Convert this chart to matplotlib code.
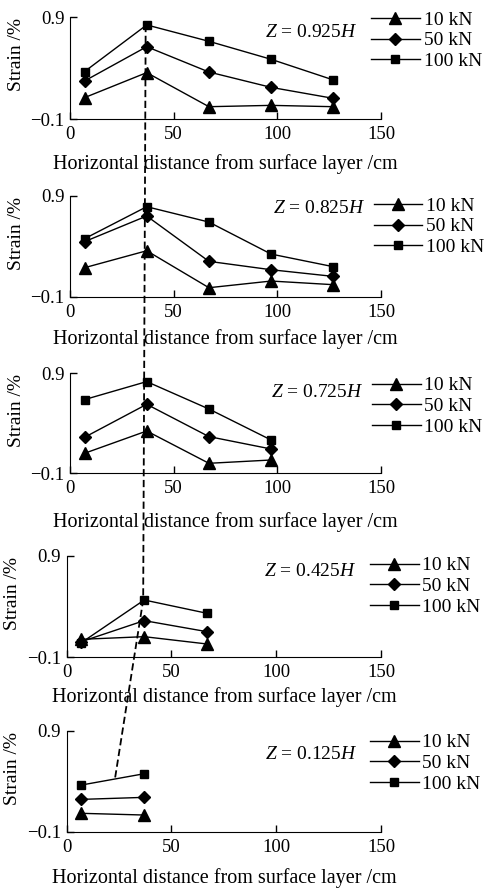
import numpy as np
import matplotlib as mpl
mpl.use("Agg")
mpl.rcParams['font.family'] = 'Liberation Serif'
mpl.rcParams['mathtext.fontset'] = 'custom'
mpl.rcParams['mathtext.rm'] = 'Liberation Serif'
mpl.rcParams['mathtext.it'] = 'Liberation Serif:italic'
mpl.rcParams['font.size'] = 13
import matplotlib.pyplot as plt
from matplotlib.lines import Line2D

# data
depths = ["0.925", "0.825", "0.725", "0.425", "0.125"]
x_pos = [7, 37, 67, 97, 127]
loads = ["10 kN", "50 kN", "100 kN"]
strain_10 = [
    [0.11, 0.356, 0.021, 0.034, 0.021],
    [0.187, 0.355, -0.011, 0.055, 0.019],
    [0.10, 0.323, 0.0, 0.033],
    [0.077, 0.103, 0.031],
    [0.082, 0.065],
]
strain_50 = [
    [0.274, 0.611, 0.362, 0.211, 0.103],
    [0.445, 0.699, 0.25, 0.167, 0.101],
    [0.26, 0.59, 0.267, 0.143],
    [0.054, 0.261, 0.152],
    [0.22, 0.24],
]
strain_100 = [
    [0.366, 0.825, 0.664, 0.487, 0.284],
    [0.474, 0.791, 0.639, 0.322, 0.197],
    [0.637, 0.817, 0.543, 0.233],
    [0.044, 0.464, 0.333],
    [0.362, 0.474],
]
# dashed trend line: (panel, x, strain)
trend = [(0, 36.5, 0.825), (3, 36.5, 0.464), (4, 23, 0.42)]

W, H = 488, 893
fig = plt.figure(figsize=(W / 100, H / 100), dpi=100)

# pixel boxes: left, top, bottom
boxes = [(70, 17.3, 119), (70, 195.7, 296.7), (70, 373.3, 473.3),
         (66.7, 555.7, 657.3), (66.7, 730.7, 831.7)]
right = 381
zpos = [(0.776, 0.855), (0.80, 0.878), (0.793, 0.813), (0.776, 0.84), (0.779, 0.76)]
legpos = [(0.968, 1.06), (0.977, 0.985), (0.971, 0.965), (0.965, 0.99), (0.965, 0.97)]
xlpad = [8, 6, 11, 4, 9]

markers = ["^", "D", "s"]
msizes = [8, 6, 6]

axes = []
for i, (l, t, b) in enumerate(boxes):
    ax = fig.add_axes([l / W, 1 - b / H, (right - l) / W, (b - t) / H])
    axes.append(ax)
    for series, m, ms, lab in zip([strain_10, strain_50, strain_100], markers, msizes, loads):
        y = series[i]
        ax.plot(x_pos[:len(y)], y, color="black", lw=1.0, marker=m, ms=ms, label=lab)
    ax.set_xlim(0, 150)
    ax.set_ylim(-0.1, 0.9)
    ax.set_xticks([0, 50, 100, 150])
    ax.set_yticks([-0.1, 0.9])
    ax.spines["top"].set_visible(False)
    ax.spines["right"].set_visible(False)
    ax.tick_params(direction="in", length=5, width=1, labelsize=13.5)
    ax.tick_params(axis="x", pad=5)
    ax.tick_params(axis="y", pad=4)
    ax.set_xlabel("Horizontal distance from surface layer /cm", fontsize=14.5,
                  labelpad=xlpad[i])
    ax.set_ylabel("Strain /%", fontsize=14)
    ax.yaxis.set_label_coords(-0.145, 0.63)
    ax.text(zpos[i][0], zpos[i][1], rf"$Z$ = {depths[i]}$H$", transform=ax.transAxes,
            ha="center", va="center", fontsize=14)
    ax.legend(loc="upper left", bbox_to_anchor=legpos[i], frameon=False,
              fontsize=14, borderpad=0, borderaxespad=0, handlelength=2.5,
              handletextpad=0.2, labelspacing=0.155)

# dashed line across panels
pts = []
for k, xv, yv in trend:
    px = axes[k].transData.transform((xv, yv))
    pts.append(fig.transFigure.inverted().transform(px))
pts = np.array(pts)
fig.add_artist(Line2D(pts[:, 0], pts[:, 1], transform=fig.transFigure,
                      color="black", lw=1.3, ls=(0, (4, 2))))

fig.savefig("out.png", dpi=100)
